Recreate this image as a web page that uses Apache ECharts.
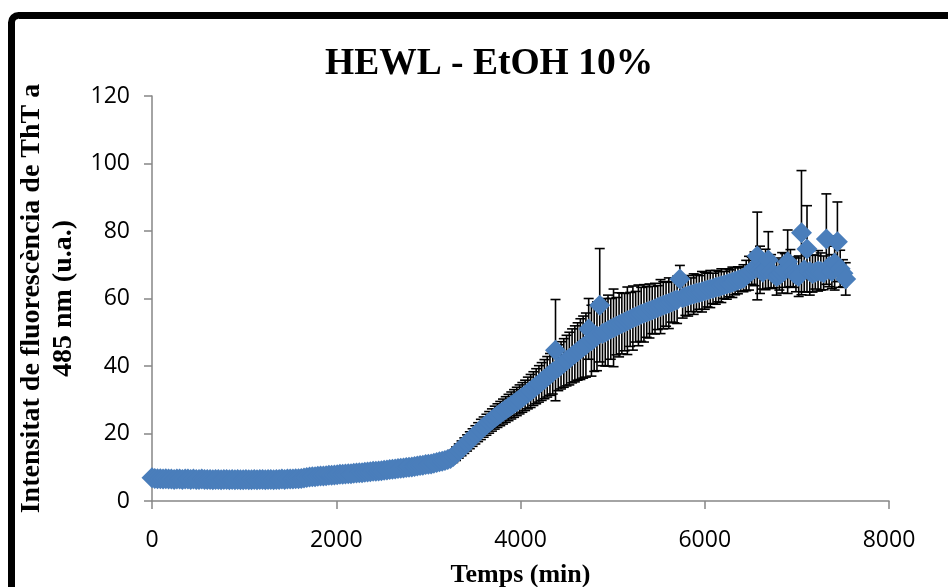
<!DOCTYPE html>
<html>
<head>
<meta charset="utf-8">
<title>HEWL - EtOH 10%</title>
<script src="https://cdn.jsdelivr.net/npm/echarts@6/dist/echarts.min.js"></script>
<style>
  html, body { margin: 0; padding: 0; background: #ffffff; }
  #chart { width: 948px; height: 587px; }
</style>
</head>
<body>
<div id="chart"></div>
<script>
// ThT fluorescence of HEWL in 10% ethanol, read every 30 min
const timeMin = [
  0, 30, 60, 90, 120, 150, 180, 210, 240, 270,
  300, 330, 360, 390, 420, 450, 480, 510, 540, 570,
  600, 630, 660, 690, 720, 750, 780, 810, 840, 870,
  900, 930, 960, 990, 1020, 1050, 1080, 1110, 1140, 1170,
  1200, 1230, 1260, 1290, 1320, 1350, 1380, 1410, 1440, 1470,
  1500, 1530, 1560, 1590, 1620, 1650, 1680, 1710, 1740, 1770,
  1800, 1830, 1860, 1890, 1920, 1950, 1980, 2010, 2040, 2070,
  2100, 2130, 2160, 2190, 2220, 2250, 2280, 2310, 2340, 2370,
  2400, 2430, 2460, 2490, 2520, 2550, 2580, 2610, 2640, 2670,
  2700, 2730, 2760, 2790, 2820, 2850, 2880, 2910, 2940, 2970,
  3000, 3030, 3060, 3090, 3120, 3150, 3180, 3210, 3240, 3270,
  3300, 3330, 3360, 3390, 3420, 3450, 3480, 3510, 3540, 3570,
  3600, 3630, 3660, 3690, 3720, 3750, 3780, 3810, 3840, 3870,
  3900, 3930, 3960, 3990, 4020, 4050, 4080, 4110, 4140, 4170,
  4200, 4230, 4260, 4290, 4320, 4350, 4380, 4410, 4440, 4470,
  4500, 4530, 4560, 4590, 4620, 4650, 4680, 4710, 4740, 4770,
  4800, 4830, 4860, 4890, 4920, 4950, 4980, 5010, 5040, 5070,
  5100, 5130, 5160, 5190, 5220, 5250, 5280, 5310, 5340, 5370,
  5400, 5430, 5460, 5490, 5520, 5550, 5580, 5610, 5640, 5670,
  5700, 5730, 5760, 5790, 5820, 5850, 5880, 5910, 5940, 5970,
  6000, 6030, 6060, 6090, 6120, 6150, 6180, 6210, 6240, 6270,
  6300, 6330, 6360, 6390, 6420, 6450, 6480, 6510, 6540, 6570,
  6600, 6630, 6660, 6690, 6720, 6750, 6780, 6810, 6840, 6870,
  6900, 6930, 6960, 6990, 7020, 7050, 7080, 7110, 7140, 7170,
  7200, 7230, 7260, 7290, 7320, 7350, 7380, 7410, 7440, 7470,
  7500, 7530
];

// mean intensity (u.a.)
const intensity = [
  6.9, 6.7, 6.6, 6.6, 6.5, 6.6, 6.5, 6.5, 6.4, 6.5,
  6.5, 6.4, 6.5, 6.5, 6.4, 6.5, 6.4, 6.4, 6.5, 6.4,
  6.4, 6.4, 6.3, 6.4, 6.4, 6.3, 6.4, 6.4, 6.3, 6.4,
  6.3, 6.4, 6.3, 6.3, 6.4, 6.3, 6.3, 6.4, 6.3, 6.4,
  6.4, 6.3, 6.4, 6.4, 6.3, 6.4, 6.4, 6.5, 6.4, 6.5,
  6.5, 6.5, 6.6, 6.6, 6.7, 6.8, 7.0, 7.1, 7.2, 7.2,
  7.3, 7.4, 7.4, 7.5, 7.6, 7.6, 7.7, 7.8, 7.9, 7.9,
  8.0, 8.1, 8.1, 8.2, 8.3, 8.4, 8.4, 8.5, 8.6, 8.7,
  8.8, 8.8, 8.9, 9.0, 9.1, 9.2, 9.3, 9.4, 9.5, 9.6,
  9.7, 9.8, 9.9, 10.0, 10.1, 10.2, 10.4, 10.5, 10.6, 10.8,
  10.9, 11.0, 11.2, 11.4, 11.6, 11.8, 12.0, 12.3, 12.6, 13.2,
  14.0, 14.8, 15.6, 16.4, 17.2, 18.0, 18.8, 19.6, 20.4, 21.2,
  21.9, 22.6, 23.3, 24.0, 24.7, 25.3, 25.9, 26.5, 27.1, 27.7,
  28.3, 28.9, 29.5, 30.1, 30.7, 31.3, 32.0, 32.6, 33.3, 34.0,
  34.7, 35.4, 36.1, 36.8, 37.5, 38.2, 44.7, 39.5, 40.2, 40.9,
  41.6, 42.2, 43.0, 43.6, 44.3, 45.0, 45.6, 46.2, 51.0, 47.5,
  48.2, 48.8, 58.0, 49.6, 50.0, 50.5, 51.0, 51.3, 51.8, 52.2,
  52.6, 53.0, 53.4, 53.8, 54.2, 54.6, 55.0, 55.3, 55.6, 56.0,
  56.3, 56.6, 57.0, 57.3, 57.6, 58.0, 58.3, 58.6, 59.0, 59.3,
  59.6, 65.8, 60.2, 60.5, 60.8, 61.1, 61.3, 61.6, 61.8, 62.0,
  62.3, 62.5, 62.8, 63.0, 63.3, 63.5, 63.8, 64.0, 64.3, 64.5,
  64.8, 65.1, 65.4, 65.7, 66.0, 66.8, 67.5, 68.2, 68.8, 72.6,
  68.5, 67.8, 68.6, 71.4, 68.0, 67.2, 66.5, 67.0, 67.6, 68.3,
  70.9, 69.0, 67.8, 67.0, 66.6, 79.5, 68.5, 74.7, 68.0, 67.4,
  67.8, 68.2, 68.0, 67.6, 77.6, 69.5, 68.0, 70.5, 76.8, 68.8,
  67.5, 65.8
];

// standard deviation (u.a.)
const stdDev = [
  0.5, 0.5, 0.5, 0.5, 0.5, 0.5, 0.5, 0.5, 0.5, 0.5,
  0.5, 0.5, 0.5, 0.5, 0.5, 0.5, 0.5, 0.5, 0.5, 0.5,
  0.5, 0.5, 0.5, 0.5, 0.5, 0.5, 0.5, 0.5, 0.5, 0.5,
  0.5, 0.5, 0.5, 0.5, 0.5, 0.5, 0.5, 0.5, 0.5, 0.5,
  0.5, 0.5, 0.5, 0.5, 0.5, 0.5, 0.5, 0.5, 0.5, 0.5,
  0.5, 0.5, 0.5, 0.5, 0.6, 0.6, 0.6, 0.6, 0.6, 0.6,
  0.7, 0.7, 0.7, 0.7, 0.7, 0.7, 0.7, 0.7, 0.7, 0.7,
  0.8, 0.8, 0.8, 0.8, 0.8, 0.8, 0.8, 0.8, 0.8, 0.8,
  0.8, 0.8, 0.8, 0.8, 0.8, 0.8, 0.8, 0.8, 0.8, 0.8,
  0.9, 0.9, 0.9, 0.9, 0.9, 0.9, 0.9, 0.9, 0.9, 0.9,
  1.0, 1.0, 1.1, 1.2, 1.2, 1.3, 1.4, 1.5, 1.6, 1.8,
  2.0, 2.1, 2.2, 2.3, 2.4, 2.5, 2.6, 2.7, 2.8, 3.0,
  3.0, 3.1, 3.2, 3.3, 3.4, 3.5, 3.6, 3.7, 3.8, 3.9,
  4.0, 4.1, 4.2, 4.3, 4.4, 4.5, 4.7, 4.9, 5.0, 5.2,
  5.4, 5.6, 5.8, 6.0, 6.2, 6.5, 15.0, 6.8, 7.0, 7.2,
  7.5, 7.8, 8.0, 8.3, 8.5, 9.0, 9.2, 9.5, 9.0, 10.5,
  9.8, 10.2, 16.8, 9.5, 10.0, 10.5, 9.0, 11.5, 8.5, 9.5,
  9.0, 8.5, 10.0, 8.0, 9.5, 7.5, 9.0, 8.0, 8.5, 7.5,
  8.0, 7.0, 7.5, 6.5, 8.0, 7.0, 6.5, 7.5, 6.0, 6.5,
  7.0, 4.0, 6.0, 5.5, 6.0, 5.0, 6.0, 5.5, 5.0, 6.0,
  5.5, 5.0, 5.5, 4.5, 5.0, 4.5, 5.0, 4.0, 4.5, 4.0,
  4.5, 4.0, 4.0, 3.5, 4.0, 4.5, 5.0, 4.0, 5.0, 13.0,
  7.0, 5.0, 6.0, 8.4, 5.0, 4.0, 5.5, 4.5, 6.0, 5.0,
  9.4, 5.5, 4.5, 5.0, 6.0, 18.4, 6.5, 12.8, 7.0, 5.5,
  5.0, 6.0, 5.5, 5.0, 13.4, 6.0, 5.0, 8.0, 11.8, 5.5,
  4.0, 4.8
];

const xTicks = { min: 0, max: 8000, step: 2000 };
const yTicks = { min: 0, max: 120, step: 20 };

const points = timeMin.map((t, i) => [t, intensity[i]]);
const ranges = timeMin.map((t, i) => [t, intensity[i] - stdDev[i], intensity[i] + stdDev[i]]);

const axisGrey = '#868686';
const markerBlue = '#4a7ebb';
const serif = '"Liberation Serif", "Times New Roman", serif';
const sans = '"Open Sans", "Noto Sans", sans-serif';

const chart = echarts.init(document.getElementById('chart'), null, { renderer: 'canvas' });

chart.setOption({
  animation: false,
  backgroundColor: '#ffffff',
  title: {
    text: 'HEWL - EtOH 10%',
    left: 320,
    top: 40,
    textStyle: { fontFamily: serif, fontWeight: 'bold', fontSize: 37.5, color: '#000' }
  },
  graphic: [{
    type: 'rect',
    shape: { x: 11.5, y: 15.5, width: 1000, height: 700, r: 7 },
    style: { fill: 'none', stroke: '#000', lineWidth: 7 },
    silent: true
  }],
  grid: { left: 152, right: 59, top: 96, bottom: 86, outerBoundsMode: 'none', containLabel: false },
  xAxis: {
    type: 'value',
    min: xTicks.min, max: xTicks.max, interval: xTicks.step,
    name: 'Temps (min)',
    nameLocation: 'middle',
    nameGap: 61,
    nameTextStyle: { fontFamily: serif, fontWeight: 'bold', fontSize: 26, color: '#000' },
    axisLine: { show: true, lineStyle: { color: axisGrey, width: 1.5 } },
    axisTick: { show: true, inside: false, length: 8, lineStyle: { color: axisGrey, width: 1.5 } },
    axisLabel: { margin: 28, fontFamily: sans, fontSize: 23, color: '#000', formatter: v => String(v) },
    splitLine: { show: false }
  },
  yAxis: {
    type: 'value',
    min: yTicks.min, max: yTicks.max, interval: yTicks.step,
    name: 'Intensitat de fluorescència de ThT a\n485 nm (u.a.)',
    nameLocation: 'middle',
    nameGap: 67,
    nameTextStyle: { fontFamily: serif, fontWeight: 'bold', fontSize: 28, lineHeight: 32, color: '#000', align: 'center' },
    axisLine: { show: true, lineStyle: { color: axisGrey, width: 1.5 } },
    axisTick: { show: true, inside: false, length: 8, lineStyle: { color: axisGrey, width: 1.5 } },
    axisLabel: { margin: 22, fontFamily: sans, fontSize: 23, color: '#000' },
    splitLine: { show: false }
  },
  series: [
    {
      // vertical error bars with caps, under the markers
      type: 'custom',
      z: 2,
      data: ranges,
      encode: { x: 0, y: [1, 2] },
      renderItem: function (params, api) {
        const t = api.value(0);
        const top = api.coord([t, api.value(2)]);
        const bot = api.coord([t, api.value(1)]);
        const hw = 5;
        const st = { stroke: '#000', lineWidth: 1.6 };
        return {
          type: 'group',
          children: [
            { type: 'line', shape: { x1: top[0], y1: top[1], x2: bot[0], y2: bot[1] }, style: st },
            { type: 'line', shape: { x1: top[0] - hw, y1: top[1], x2: top[0] + hw, y2: top[1] }, style: st },
            { type: 'line', shape: { x1: bot[0] - hw, y1: bot[1], x2: bot[0] + hw, y2: bot[1] }, style: st }
          ]
        };
      }
    },
    {
      type: 'scatter',
      z: 3,
      data: points,
      symbol: 'diamond',
      symbolSize: 21,
      itemStyle: { color: markerBlue, opacity: 1 }
    }
  ]
});
</script>
</body>
</html>
